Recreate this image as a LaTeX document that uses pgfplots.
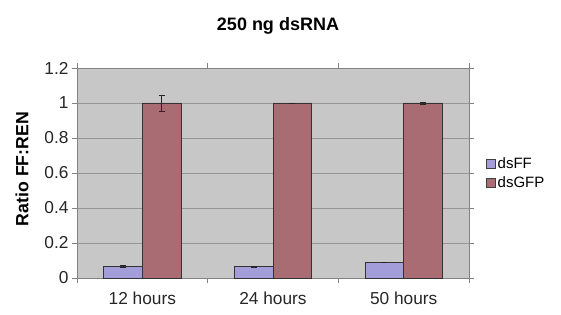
\documentclass[border=0pt]{standalone}
\usepackage{pgfplots}
\pgfplotsset{compat=1.18}
\usepackage{fontspec}
\setmainfont{Liberation Sans}
\definecolor{bggray}{RGB}{199,199,199}
\definecolor{ffcol}{RGB}{163,158,218}
\definecolor{gfpcol}{RGB}{168,108,114}
\definecolor{gridc}{RGB}{150,150,150}
\definecolor{axc}{RGB}{130,130,130}
\begin{document}
\begin{tikzpicture}[x=1bp,y=1bp]
\path[use as bounding box] (0,0) rectangle (561,314);
\begin{axis}[
  at={(77bp,36bp)}, anchor=south west,
  scale only axis, width=392bp, height=210bp,
  xmin=-0.5, xmax=2.5, ymin=0, ymax=1.2,
  ytick={0,0.2,0.4,0.6,0.8,1,1.2},
  yticklabels={0,0.2,0.4,0.6,0.8,1,1.2},
  xtick={0,1,2},
  xticklabels={12 hours,24 hours,50 hours},
  minor xtick={-0.5,0.5,1.5,2.5},
  every major x tick/.append style={draw=none},
  tick align=outside,
  major tick length=5bp, minor tick length=5bp,
  tick style={axc, line width=0.6bp},
  axis line style={axc, line width=0.6bp},
  axis background/.style={fill=bggray},
  ymajorgrids, grid style={gridc, line width=0.5bp},
  /pgf/number format/assume math mode=true,
  tick label style={font=\fontsize{17.3bp}{19bp}\selectfont, text=black!85},
  xticklabel style={yshift=-5bp},
  title={\textbf{250 ng dsRNA}},
  title style={font=\fontsize{18bp}{21bp}\selectfont, at={(axis description cs:0.5,1)}, anchor=center, yshift=36bp, xshift=5bp},
  ylabel={\textbf{Ratio FF:REN}},
  ylabel style={font=\fontsize{17.7bp}{20bp}\selectfont, at={(axis description cs:-0.1403,0.519)}, anchor=center},
  ybar, bar width=0.295,
  legend style={at={(axis description cs:1,0.5)}, anchor=west, xshift=14bp,
    draw=none, fill=none, font=\fontsize{15bp}{17bp}\selectfont,
    row sep=3bp, inner sep=3bp},
  legend cell align=left,
  legend image code/.code={\draw[#1, draw=black!75, line width=0.5bp] (0bp,-4.5bp) rectangle (9bp,4.5bp);},
]
\addplot+[bar shift=-0.1475, fill=ffcol, draw=black!80, line width=0.7bp,
  error bars/.cd, y dir=both, y explicit,
  error bar style={black!85, line width=0.8bp}, error mark options={rotate=90, mark size=3bp, black!85}]
  coordinates {(0,0.066) +- (0,0.005) (1,0.064) +- (0,0.003) (2,0.088) +- (0,0.0)};
\addplot+[bar shift=0.1475, fill=gfpcol, draw=black!80, line width=0.7bp,
  error bars/.cd, y dir=both, y explicit,
  error bar style={black!85, line width=0.8bp}, error mark options={rotate=90, mark size=3bp, black!85}]
  coordinates {(0,1.0) +- (0,0.045) (1,1.0) +- (0,0.0) (2,1.0) +- (0,0.005)};
\legend{dsFF,dsGFP}
\end{axis}
\end{tikzpicture}
\end{document}
